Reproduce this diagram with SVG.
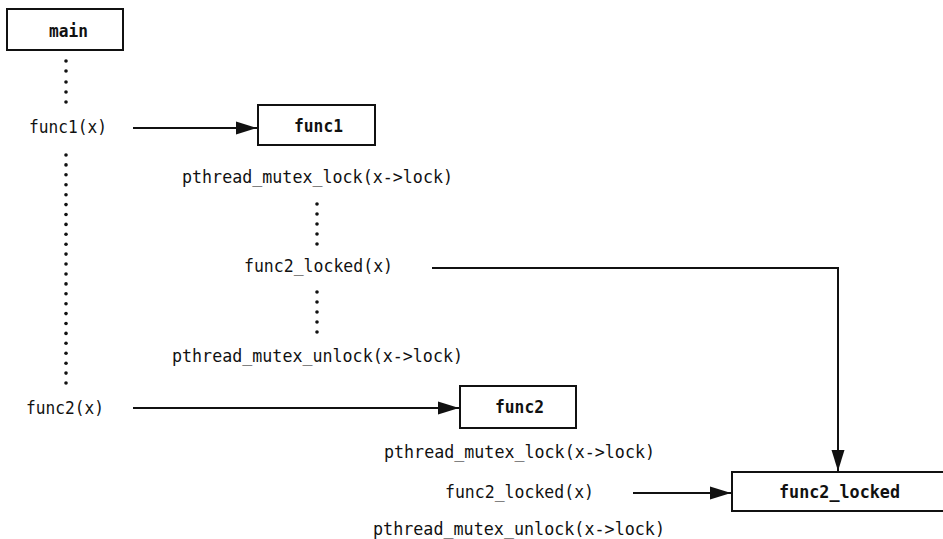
<svg xmlns="http://www.w3.org/2000/svg" width="943" height="539" viewBox="0 0 943 539">
<style>
.bg{fill:#fff}
.box{fill:#fff;stroke:#111;stroke-width:2}
.lbl{font-family:"DejaVu Sans Mono","Liberation Mono",monospace;font-size:18px;fill:#111;text-anchor:middle}
.bold{font-weight:bold}
.conn{fill:none;stroke:#111;stroke-width:2}
.dot{fill:#111}
</style>
<defs>
<marker id="arr" markerUnits="userSpaceOnUse" markerWidth="22" markerHeight="14" refX="21" refY="7" orient="auto">
<path d="M0 0.5 L21 7 L0 13.5 z" fill="#111"/>
</marker>
</defs>
<rect class="bg" x="0" y="0" width="943" height="539"/>
<g id="connectors">
<path class="conn" d="M133 128 H257" marker-end="url(#arr)"/>
<path class="conn" d="M133 408 H459" marker-end="url(#arr)"/>
<path class="conn" d="M432 268 H838 V471" marker-end="url(#arr)"/>
<path class="conn" d="M633 493 H731" marker-end="url(#arr)"/>
</g>
<g id="dots">
<g class="dot">
<circle cx="66" cy="61" r="1.8"/><circle cx="66" cy="71" r="1.8"/><circle cx="66" cy="82" r="1.8"/><circle cx="66" cy="92" r="1.8"/><circle cx="66" cy="102" r="1.8"/>
<circle cx="66" cy="155" r="1.8"/><circle cx="66" cy="164.9" r="1.8"/><circle cx="66" cy="174.8" r="1.8"/><circle cx="66" cy="184.7" r="1.8"/><circle cx="66" cy="194.7" r="1.8"/><circle cx="66" cy="204.6" r="1.8"/><circle cx="66" cy="214.5" r="1.8"/><circle cx="66" cy="224.4" r="1.8"/><circle cx="66" cy="234.3" r="1.8"/><circle cx="66" cy="244.2" r="1.8"/><circle cx="66" cy="254.1" r="1.8"/><circle cx="66" cy="264" r="1.8"/><circle cx="66" cy="274" r="1.8"/><circle cx="66" cy="283.9" r="1.8"/><circle cx="66" cy="293.8" r="1.8"/><circle cx="66" cy="303.7" r="1.8"/><circle cx="66" cy="313.6" r="1.8"/><circle cx="66" cy="323.5" r="1.8"/><circle cx="66" cy="333.4" r="1.8"/><circle cx="66" cy="343.3" r="1.8"/><circle cx="66" cy="353.3" r="1.8"/><circle cx="66" cy="363.2" r="1.8"/><circle cx="66" cy="373.1" r="1.8"/><circle cx="66" cy="383" r="1.8"/>
<circle cx="317" cy="204" r="1.8"/><circle cx="317" cy="214" r="1.8"/><circle cx="317" cy="224" r="1.8"/><circle cx="317" cy="234" r="1.8"/><circle cx="317" cy="244" r="1.8"/>
<circle cx="317" cy="292" r="1.8"/><circle cx="317" cy="302" r="1.8"/><circle cx="317" cy="312" r="1.8"/><circle cx="317" cy="322" r="1.8"/><circle cx="317" cy="332" r="1.8"/>
</g>
</g>
<g id="main">
<rect class="box" x="7" y="9" width="116" height="41"/>
<text class="lbl bold" x="68.5" y="37" textLength="39" lengthAdjust="spacingAndGlyphs">main</text>
</g>
<g id="func1">
<rect class="box" x="258" y="105" width="117" height="40"/>
<text class="lbl bold" x="318.5" y="132" textLength="49" lengthAdjust="spacingAndGlyphs">func1</text>
</g>
<g id="func2">
<rect class="box" x="460" y="386" width="116" height="42"/>
<text class="lbl bold" x="519.5" y="413" textLength="49" lengthAdjust="spacingAndGlyphs">func2</text>
</g>
<g id="func2_locked">
<rect class="box" x="732" y="472" width="215" height="39"/>
<text class="lbl bold" x="839.5" y="498" textLength="121" lengthAdjust="spacingAndGlyphs">func2_locked</text>
</g>
<g id="labels">
<text class="lbl" x="68" y="133" textLength="78" lengthAdjust="spacingAndGlyphs">func1(x)</text>
<text class="lbl" x="65" y="414" textLength="78" lengthAdjust="spacingAndGlyphs">func2(x)</text>
<text class="lbl" x="317.5" y="183" textLength="271" lengthAdjust="spacingAndGlyphs">pthread_mutex_lock(x-&gt;lock)</text>
<text class="lbl" x="318.5" y="272" textLength="149" lengthAdjust="spacingAndGlyphs">func2_locked(x)</text>
<text class="lbl" x="317.5" y="362" textLength="291" lengthAdjust="spacingAndGlyphs">pthread_mutex_unlock(x-&gt;lock)</text>
<text class="lbl" x="519.5" y="458" textLength="271" lengthAdjust="spacingAndGlyphs">pthread_mutex_lock(x-&gt;lock)</text>
<text class="lbl" x="519.5" y="498" textLength="149" lengthAdjust="spacingAndGlyphs">func2_locked(x)</text>
<text class="lbl" x="519" y="535" textLength="292" lengthAdjust="spacingAndGlyphs">pthread_mutex_unlock(x-&gt;lock)</text>
</g>
</svg>
